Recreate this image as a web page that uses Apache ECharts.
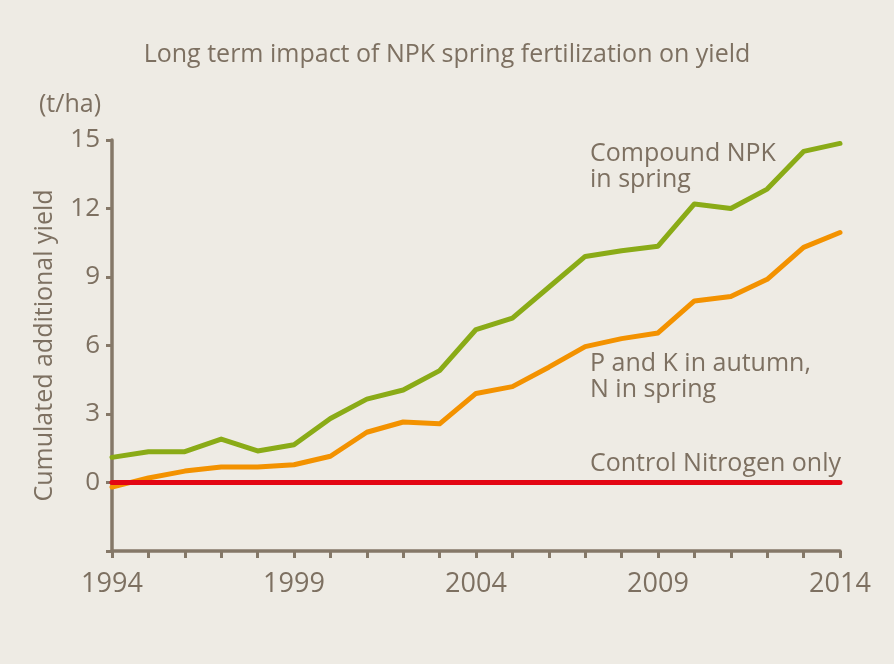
<!DOCTYPE html>
<html>
<head>
<meta charset="utf-8">
<script src="https://cdn.jsdelivr.net/npm/echarts@6/dist/echarts.min.js"></script>
<style>
  html, body { margin: 0; padding: 0; background: #eeebe4; }
  #chart { width: 894px; height: 664px; }
</style>
</head>
<body>
<div id="chart"></div>
<script>
// years on the x axis
var years = [];
for (var y = 1994; y <= 2014; y++) years.push(String(y));

// cumulated additional yield, t/ha
var compoundNPK = [1.1, 1.35, 1.35, 1.9, 1.38, 1.65, 2.8, 3.65, 4.05, 4.9, 6.7, 7.2, 8.55, 9.9, 10.15, 10.35, 12.2, 12.0, 12.85, 14.5, 14.85];
var pkAutumn = [-0.2, 0.2, 0.5, 0.68, 0.68, 0.78, 1.15, 2.2, 2.65, 2.57, 3.9, 4.2, 5.05, 5.95, 6.3, 6.55, 7.95, 8.15, 8.9, 10.3, 10.95];
var controlN = [0, 0, 0, 0, 0, 0, 0, 0, 0, 0, 0, 0, 0, 0, 0, 0, 0, 0, 0, 0, 0];

var textColor = "#7d7061";
var axisColor = "#857868";
var font = "'Open Sans', sans-serif";

var myChart = echarts.init(document.getElementById("chart"));

var option = {
  backgroundColor: "#eeebe4",
  animation: false,
  title: {
    text: "Long term impact of NPK spring fertilization on yield",
    left: "center",
    top: 37,
    textStyle: { color: textColor, fontSize: 25, fontWeight: "normal", fontFamily: font },
  },
  grid: { left: 112, right: 54, top: 140, bottom: 113 },
  xAxis: {
    type: "category",
    data: years,
    boundaryGap: false,
    axisLine: { onZero: false, lineStyle: { color: axisColor, width: 3.5 } },
    axisTick: { interval: 0, length: 7, lineStyle: { color: axisColor, width: 3 } },
    axisLabel: {
      interval: 4,
      margin: 20,
      color: textColor,
      fontSize: 27,
      fontFamily: font,
    },
  },
  yAxis: {
    type: "value",
    min: -3,
    max: 15,
    interval: 3,
    name: "Cumulated additional yield",
    nameLocation: "middle",
    nameGap: 55,
    nameTextStyle: { color: textColor, fontSize: 25, fontFamily: font },
    axisLine: { show: true, lineStyle: { color: axisColor, width: 3.5 } },
    axisTick: { show: true, length: 6, lineStyle: { color: axisColor, width: 3 } },
    splitLine: { show: false },
    axisLabel: {
      margin: 12,
      color: textColor,
      fontSize: 26,
      fontFamily: font,
      formatter: function (v) { return v < 0 ? "" : String(v); },
    },
  },
  series: [
    {
      name: "Control Nitrogen only",
      type: "line",
      data: controlN,
      symbol: "none",
      lineStyle: { color: "#e30613", width: 5, cap: "round" },
      z: 3,
    },
    {
      name: "P and K in autumn, N in spring",
      type: "line",
      data: pkAutumn,
      symbol: "none",
      lineStyle: { color: "#f39200", width: 5, cap: "round", join: "round" },
      z: 2,
    },
    {
      name: "Compound NPK in spring",
      type: "line",
      data: compoundNPK,
      symbol: "none",
      lineStyle: { color: "#8aab17", width: 5, cap: "round", join: "round" },
      z: 2,
    },
  ],
  graphic: [
    {
      type: "text", left: 39, top: 92,
      style: { text: "(t/ha)", fill: textColor, fontSize: 25, fontFamily: font },
    },
    {
      type: "text", left: 590, top: 141,
      style: { text: "Compound NPK\nin spring", fill: textColor, fontSize: 25, lineHeight: 26, fontFamily: font },
    },
    {
      type: "text", left: 590, top: 351,
      style: { text: "P and K in autumn,\nN in spring", fill: textColor, fontSize: 25, lineHeight: 26, fontFamily: font },
    },
    {
      type: "text", left: 590, top: 451,
      style: { text: "Control Nitrogen only", fill: textColor, fontSize: 25, fontFamily: font },
    },
  ],
};

myChart.setOption(option);
</script>
</body>
</html>
